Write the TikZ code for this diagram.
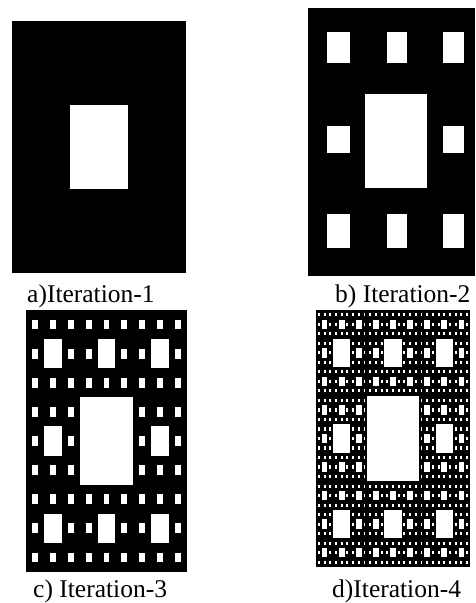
\documentclass[tikz,border=0pt]{standalone}
\usepackage{fontspec}
\setmainfont{Liberation Serif}
\newcommand\mycarpet[5]{%
  \fill[black] (#1,#2) rectangle ++(#3,#4);
  \foreach \k in {1,...,#5}{%
    \pgfmathtruncatemacro\nn{3^(\k-1)-1}%
    \pgfmathsetmacro\cw{#3/(3^\k)}%
    \pgfmathsetmacro\ch{#4/(3^\k)}%
    \foreach \a in {0,...,\nn}{%
      \foreach \b in {0,...,\nn}{%
        \fill[white] ({#1+(3*\a+1)*\cw},{#2+(3*\b+1)*\ch}) rectangle ++(\cw,\ch);
      }}}}
\begin{document}
\begin{tikzpicture}[x=1pt,y=-1pt,
  caption/.style={anchor=base west,inner sep=0pt,font=\fontsize{25.5}{30}\selectfont}]
\useasboundingbox (0,0) rectangle (475,603);
% a) Iteration-1
\mycarpet{12}{21}{174}{252}{1}
% b) Iteration-2
\fill[black] (308,8) rectangle (475,276);
\fill[white] (365,94) rectangle (427,188);
\foreach \xa/\xb in {327/350,387/407,443/464}{
  \fill[white] (\xa,32) rectangle (\xb,63);
  \fill[white] (\xa,214) rectangle (\xb,248);}
\fill[white] (327,126) rectangle (350,153);
\fill[white] (443,126) rectangle (464,153);
% c) Iteration-3
\mycarpet{26}{310}{161}{262}{3}
% d) Iteration-4
\mycarpet{316}{310}{154}{257}{4}
% captions
\node[caption] (la) at (27,302) {a)Iteration-1};
\node[caption] (lb) at (335,302) {b) Iteration-2};
\node[caption] (lc) at (33,597) {c) Iteration-3};
\node[caption] (ld) at (332,597) {d)Iteration-4};
\end{tikzpicture}
\end{document}
